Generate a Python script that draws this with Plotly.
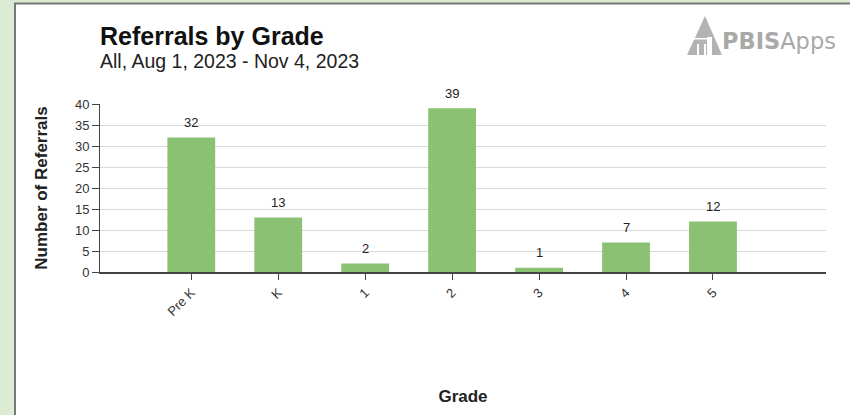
import plotly.graph_objects as go

grades = ["Pre K", "K", "1", "2", "3", "4", "5"]
referrals = [32, 13, 2, 39, 1, 7, 12]
y_ticks = [0, 5, 10, 15, 20, 25, 30, 35, 40]

BAR = "#8bc172"
FONT = "Liberation Sans, Arial, sans-serif"

fig = go.Figure(go.Bar(
    x=list(range(len(grades))), y=referrals,
    marker=dict(color=BAR, line=dict(width=0)),
    width=0.55,
))

for i, v in enumerate(referrals):
    fig.add_annotation(x=i, y=v, text=str(v), showarrow=False,
                       yanchor="middle", yshift=15,
                       font=dict(family=FONT, size=13, color="#222"))

W, H = 850, 415
L, R, T, B = 100, 24, 104, 143

fig.update_layout(
    width=W, height=H,
    margin=dict(l=L, r=R, t=T, b=B),
    paper_bgcolor="#dcebd3",
    plot_bgcolor="white",
    showlegend=False,
    font=dict(family=FONT, color="#222"),
)

fig.update_xaxes(
    tickmode="array", tickvals=list(range(len(grades))), ticktext=grades,
    tickangle=-45, range=[-1.05, 7.3],
    showline=True, linecolor="#444", linewidth=2,
    ticks="outside", ticklen=6, tickcolor="#444",
    showgrid=False, zeroline=False,
    tickfont=dict(size=13, color="#333"),
    title=dict(text="<b>Grade</b>", font=dict(size=17, color="#222"), standoff=72),
)
fig.update_yaxes(
    range=[0, 40], tickvals=y_ticks,
    showline=True, linecolor="#444", linewidth=1,
    ticks="outside", ticklen=7, tickcolor="#444",
    showgrid=True, gridcolor="#d9d9d9", gridwidth=1, zeroline=False,
    tickfont=dict(size=13, color="#333"),
    title=dict(text="<b>Number of Referrals</b>", font=dict(size=17, color="#222"), standoff=22),
)

pw, ph = W - L - R, H - T - B


def fx(x):
    return (x - L) / pw


def fy(y):
    return (H - B - y) / ph


shapes = [
    dict(type="rect", xref="paper", yref="paper", layer="below",
         x0=fx(15), x1=fx(W + 5), y0=fy(H + 5), y1=fy(3.5),
         fillcolor="white", line=dict(color="#777", width=2)),
]

tri = f"M {fx(705)},{fy(16)} L {fx(722)},{fy(55)} L {fx(687)},{fy(55)} Z"
shapes.append(dict(type="path", xref="paper", yref="paper", path=tri,
                   fillcolor="#b3b3b3", line=dict(width=0)))
for (x0, x1, y0, y1) in [(688, 712, 39.5, 38), (697, 699, 55, 44),
                         (704, 706, 55, 44), (707, 712, 55, 37)]:
    shapes.append(dict(type="rect", xref="paper", yref="paper",
                       x0=fx(x0), x1=fx(x1), y0=fy(y0), y1=fy(y1),
                       fillcolor="white", line=dict(width=0)))
fig.update_layout(shapes=shapes)

fig.add_annotation(xref="paper", yref="paper", x=fx(98), y=fy(36),
                   xanchor="left", yanchor="middle", showarrow=False,
                   text="<b>Referrals by Grade</b>",
                   font=dict(size=25, color="#111", family=FONT))
fig.add_annotation(xref="paper", yref="paper", x=fx(98), y=fy(61),
                   xanchor="left", yanchor="middle", showarrow=False,
                   text="All, Aug 1, 2023 - Nov 4, 2023",
                   font=dict(size=19.5, color="#222", family=FONT))
fig.add_annotation(xref="paper", yref="paper", x=fx(720), y=fy(41),
                   xanchor="left", yanchor="middle", showarrow=False,
                   text="<b>PBIS</b>Apps",
                   font=dict(size=22.5, color="#a9a9a9", family="DejaVu Sans, sans-serif"))

fig.write_html("out.html", config={"displayModeBar": False},
               post_script="document.body.style.margin='0';")
